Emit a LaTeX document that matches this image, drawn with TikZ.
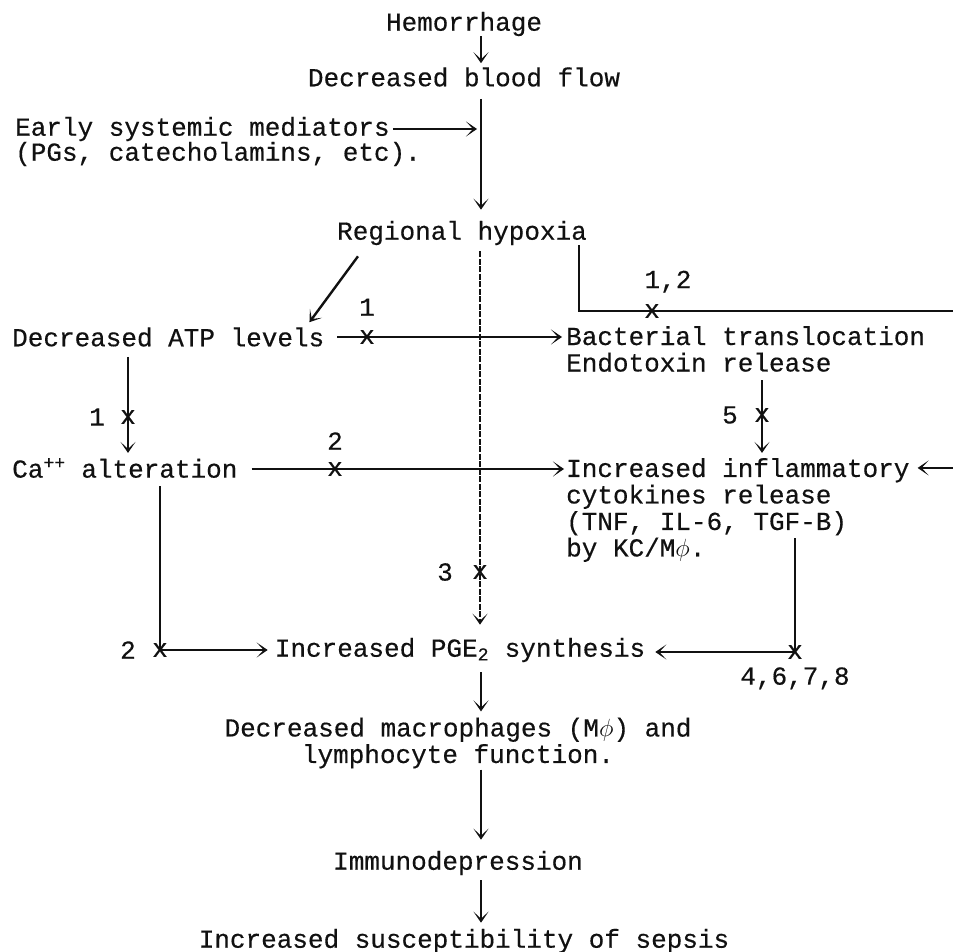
\documentclass[tikz,border=0pt]{standalone}
\usepackage{fontspec}
\usepackage{tikz}
\usetikzlibrary{arrows.meta,positioning,calc}
\newfontfamily\typer[FakeBold=0.4]{Liberation Mono}
\definecolor{ink}{HTML}{111111}
\tikzset{
  txt/.style={inner sep=0pt, text=ink, font=\typer\fontsize{26}{26.5}\selectfont},
  cut/.style={txt},
  num/.style={txt},
  ln/.style={draw=ink, line width=2.4pt},
  arr/.style={ln, -{Stealth[length=11pt,width=15pt,inset=7pt]}},
  mainline/.style={arr, dash pattern=on 6pt off 1.5pt}
}

\begin{document}
\begin{tikzpicture}[x=1pt,y=-1pt]
  \useasboundingbox (0,0) rectangle (953,952);
  \coordinate (axis) at (481,0);
  \coordinate (hr) at (579,311);
  \coordinate (redge) at (958,311);

  \node[txt] (hem) at (464,24) {Hemorrhage};
  \node[txt] (flow) at (464,77) {Decreased blood flow};
  \node[txt,anchor=west] (early) at (15,129) {Early systemic mediators};
  \node[txt,anchor=west] (early2) at (15,154) {(PGs, catecholamins, etc).};
  \node[txt] (hyp) at (462,233) {Regional hypoxia};
  \node[txt,anchor=west] (atp) at (12,337) {Decreased ATP levels};
  \node[txt,anchor=west,align=left] (bact) at (566,349) {Bacterial translocation\\Endotoxin release};
  \node[txt,anchor=west] (ca) at (12,468) {Ca\textsuperscript{++} alteration};
  \node[txt,anchor=west,align=left] (infl) at (566,510) {Increased inflammatory\\cytokines release\\(TNF, IL-6, TGF-B)\\by KC/M$\phi$.};
  \node[txt] (pge) at (460,650) {Increased PGE\textsubscript{2} synthesis};
  \node[txt,align=center] (mac) at (458,743) {Decreased macrophages (M$\phi$) and\\lymphocyte function.};
  \node[txt] (imm) at (458,863) {Immunodepression};
  \node[txt] (sep) at (464,941) {Increased susceptibility of sepsis};

  \node[cut] (x1a) at (367,337) {x};
  \node[cut] (x12) at (652,311) {x};
  \node[cut] (x5) at (762,415) {x};
  \node[cut] (x1b) at (128,417) {x};
  \node[cut] (x2a) at (335,469) {x};
  \node[cut] (x3) at (480,572) {x};
  \node[cut] (x2b) at (160,650) {x};
  \node[cut] (x4) at (795,652) {x};

  \node[num,above=14pt of x1a] (n1a) {1};
  \node[num,above=11pt of x12,xshift=16pt] (n12) {1,2};
  \node[num,left=16pt of x5] (n5) {5};
  \node[num,left=15pt of x1b] (n1b) {1};
  \node[num,above=12pt of x2a] (n2a) {2};
  \node[num,left=19pt of x3] (n3) {3};
  \node[num,left=16pt of x2b] (n2b) {2};
  \node[num,below=8pt of x4] (n4) {4,6,7,8};

  \draw[arr,shorten >=4pt] (hem.south -| axis) -- (flow.north -| axis);
  \draw[arr,shorten <=12pt,shorten >=11pt] (flow.south -| axis) -- (hyp.north -| axis);
  \draw[arr,shorten <=3pt,shorten >=4pt] (early.east) -- (early.east -| axis);
  \draw[arr] ([xshift=21pt,yshift=-11pt]hyp.south west) -- ([xshift=-15pt,yshift=5pt]atp.north east);
  \draw[arr] (hyp.south -| hr) -- (hr) -- (redge) |- ([xshift=8pt,yshift=-10pt]infl.north east);
  \draw[arr,shorten <=13pt,shorten >=4pt] (atp.east |- x1a) -- (bact.west |- x1a);
  \draw[arr,shorten <=8pt,shorten >=5pt] (bact.south -| x5) -- (infl.north -| x5);
  \draw[arr,shorten <=10pt,shorten >=5pt] (atp.south -| x1b) -- (ca.north -| x1b);
  \draw[arr,shorten <=14pt,shorten >=2pt] (ca.east |- x2a) -- (infl.west |- x2a);
  \draw[arr,shorten <=8pt,shorten >=7pt] (ca.south -| x2b) |- (pge.west |- x2b);
  \draw[mainline,shorten <=6pt,shorten >=13pt] (hyp.south -| x3) -- (pge.north -| x3);
  \draw[arr,shorten >=10pt] ($(infl.south -| x4)+(0,-24)$) |- (pge.east |- x4);
  \draw[arr,shorten <=10pt,shorten >=6pt] (pge.south -| axis) -- (mac.north -| axis);
  \draw[arr,shorten <=1pt,shorten >=11pt] (mac.south -| axis) -- (imm.north -| axis);
  \draw[arr,shorten <=5pt,shorten >=6pt] (imm.south -| axis) -- (sep.north -| axis);
\end{tikzpicture}
\end{document}
